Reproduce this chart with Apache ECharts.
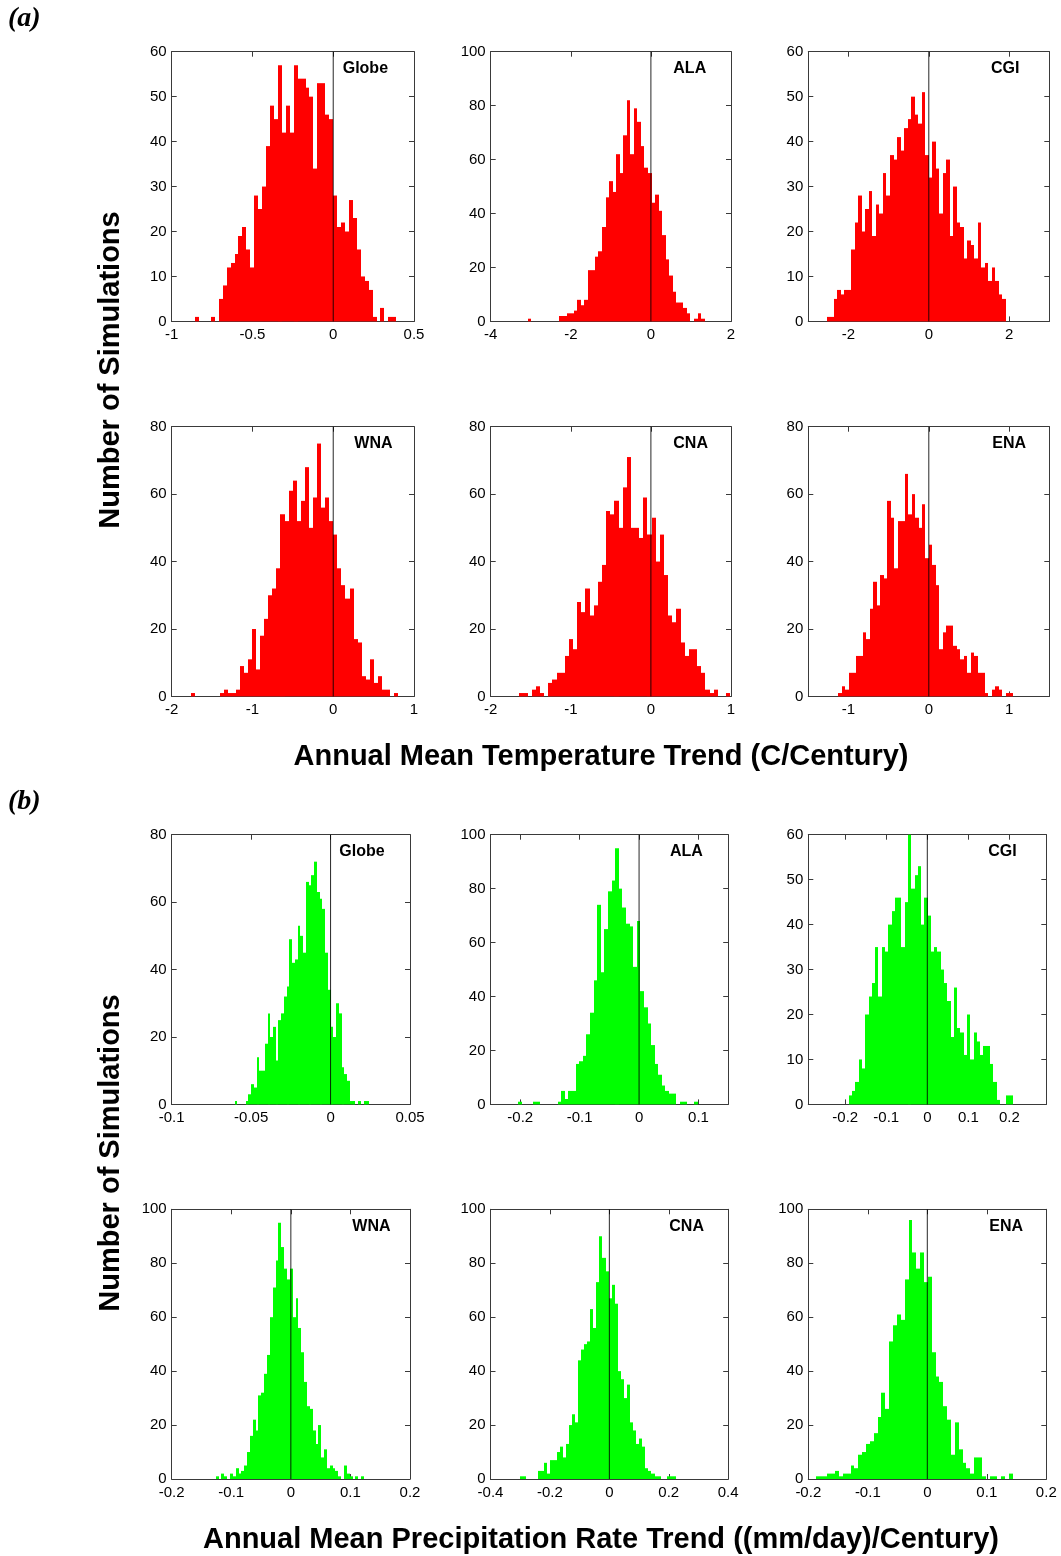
<!DOCTYPE html>
<html>
<head>
<meta charset="utf-8">
<script src="https://cdn.jsdelivr.net/npm/echarts@6/dist/echarts.min.js"></script>
<style>
  html, body { margin: 0; padding: 0; background: #ffffff; }
  #chart { width: 1061px; height: 1556px; }
</style>
</head>
<body>
<div id="chart"></div>
<script>
// ---------------------------------------------------------------------------
// Histogram counts (number of simulations per bin).
// Each *Range array gives [left edge of first bin, right edge of last bin];
// bins are equally wide across that range.
// ---------------------------------------------------------------------------

// (a) Annual mean temperature trend (C/Century)
const tempGlobe = [1,0,0,0,1,0,5,8,12,13,15,19,21,16,12,28,25,30,39,48,45,57,42,48,42,57,54,54,52,50,34,53,53,46,45,28,21,22,20,27,23,16,10,9,7,1,0,3,0,1,1];
const tempGlobeRange = [-0.855, 0.39];
const tempALA = [1,0,0,0,0,0,0,0,0,2,2,3,3,4,8,6,8,19,19,24,26,35,46,52,48,62,55,69,82,62,79,74,65,57,55,44,47,41,32,23,17,11,7,7,5,3,0,1,3,1];
const tempALARange = [-3.078, 1.342];
const tempCGI = [1,1,5,7,6,7,7,16,22,28,20,25,29,19,26,24,33,28,37,36,41,38,43,45,50,46,44,51,37,32,40,34,24,33,36,19,30,22,21,14,18,17,14,22,12,13,9,12,9,6,5];
const tempCGIRange = [-2.54, 1.92];
const tempWNA = [1,0,0,0,0,0,0,1,2,1,1,2,9,7,11,20,8,18,23,30,32,38,54,52,61,64,52,58,68,50,59,75,56,59,52,48,38,33,29,32,17,16,6,5,11,4,6,2,2,0,1];
const tempWNARange = [-1.76, 0.805];
const tempCNA = [1,1,0,2,3,1,0,4,5,7,7,12,17,14,28,25,32,24,27,34,39,55,54,58,50,62,71,50,50,47,59,48,53,40,48,36,24,22,26,16,12,14,14,9,7,2,1,2,0,0,1];
const tempCNARange = [-1.643, 0.99];
const tempENA = [1,3,2,7,7,12,12,19,17,26,34,27,36,35,58,53,38,52,52,66,54,60,53,50,57,41,45,39,33,14,19,21,21,15,14,11,12,7,13,12,7,7,1,0,2,3,2,0,1,1];
const tempENARange = [-1.125, 1.042];

// (b) Annual mean precipitation rate trend ((mm/day)/Century)
const precGlobe = [1,0,0,0,1,3,6,5,14,10,10,18,27,20,23,13,25,27,32,35,49,42,43,53,50,45,66,65,68,72,63,61,58,45,34,23,20,30,27,11,9,7,1,1,0,1,0,1,1];
const precGlobeRange = [-0.0604, 0.0242];
const precALA = [1,0,0,0,1,1,0,0,0,0,0,1,5,2,5,5,15,16,18,26,34,46,74,49,65,79,83,95,80,73,67,66,51,68,42,36,30,22,15,11,7,5,4,4,0,1,1,0,0,1];
const precALARange = [-0.2034, 0.0989];
const precCGI = [2,3,5,10,8,20,24,27,35,24,35,34,40,43,46,46,35,45,60,48,51,53,40,46,42,34,35,34,30,27,23,15,26,17,16,11,20,10,16,14,11,13,13,9,5,1,0,0,2,2];
const precCGIRange = [-0.191, 0.2086];
const precWNA = [1,0,2,1,0,2,1,4,2,3,5,10,16,22,18,31,32,39,46,60,71,81,95,86,78,74,78,60,67,56,47,36,27,26,18,13,20,8,11,4,5,4,3,1,0,5,2,1,0,1,0,1];
const precWNARange = [-0.1261, 0.1228];
const precCNA = [1,1,0,0,0,0,3,3,6,2,7,7,10,12,8,13,20,24,21,44,48,50,51,63,56,73,90,82,77,67,72,65,40,37,30,35,21,18,13,15,12,4,3,2,1,1,0,0,1,1,1];
const precCNARange = [-0.3016, 0.2243];
const precENA = [1,1,1,2,2,3,1,2,2,5,4,9,10,13,14,17,23,32,26,51,57,61,59,74,96,84,78,84,73,75,47,38,36,27,22,9,21,11,6,4,2,8,8,1,0,1,1,0,1,0,2];
const precENARange = [-0.1874, 0.1438];

// Axis extents and tick labels
const tempGlobeTicks = [-1, -0.5, 0, 0.5];
const tempALATicks = [-4, -2, 0, 2];
const tempCGITicks = [-2, 0, 2];
const tempWNATicks = [-2, -1, 0, 1];
const tempCNATicks = [-2, -1, 0, 1];
const tempENATicks = [-1, 0, 1];
const precGlobeTicks = [-0.1, -0.05, 0, 0.05];
const precALATicks = [-0.2, -0.1, 0, 0.1];
const precCGITicks = [-0.2, -0.1, 0, 0.1, 0.2];
const precWNATicks = [-0.2, -0.1, 0, 0.1, 0.2];
const precCNATicks = [-0.4, -0.2, 0, 0.2, 0.4];
const precENATicks = [-0.2, -0.1, 0, 0.1, 0.2];

// ---------------------------------------------------------------------------
// Layout
// ---------------------------------------------------------------------------
const TEMP_COLOR = '#ff0000';
const PREC_COLOR = '#00ff00';
const FRAME = '#3a3a3a';
const SANS = '"Liberation Sans", Arial, Helvetica, sans-serif';

const gridTop = [51.7, 426.7, 834.7, 1209.3];
const gridHeight = 269.7;
const gridLeftA = [171.7, 490.7, 808.3], gridWidthA = [242.3, 240.3, 241];
const gridLeftB = [171.7, 490.5, 808.3], gridWidthB = [238.3, 237.7, 238];

const panels = [
  { name: 'Globe', counts: tempGlobe, range: tempGlobeRange, xLim: [-1, 0.5],     ticks: tempGlobeTicks, yMax: 60,  yStep: 10, color: TEMP_COLOR, row: 0, col: 0, set: 'A', labelDx: 171 },
  { name: 'ALA',   counts: tempALA,   range: tempALARange,   xLim: [-4, 2],       ticks: tempALATicks,   yMax: 100, yStep: 20, color: TEMP_COLOR, row: 0, col: 1, set: 'A', labelDx: 182.6 },
  { name: 'CGI',   counts: tempCGI,   range: tempCGIRange,   xLim: [-3, 3],       ticks: tempCGITicks,   yMax: 60,  yStep: 10, color: TEMP_COLOR, row: 0, col: 2, set: 'A', labelDx: 182.7 },
  { name: 'WNA',   counts: tempWNA,   range: tempWNARange,   xLim: [-2, 1],       ticks: tempWNATicks,   yMax: 80,  yStep: 20, color: TEMP_COLOR, row: 1, col: 0, set: 'A', labelDx: 182.6 },
  { name: 'CNA',   counts: tempCNA,   range: tempCNARange,   xLim: [-2, 1],       ticks: tempCNATicks,   yMax: 80,  yStep: 20, color: TEMP_COLOR, row: 1, col: 1, set: 'A', labelDx: 182.6 },
  { name: 'ENA',   counts: tempENA,   range: tempENARange,   xLim: [-1.5, 1.5],   ticks: tempENATicks,   yMax: 80,  yStep: 20, color: TEMP_COLOR, row: 1, col: 2, set: 'A', labelDx: 184 },
  { name: 'Globe', counts: precGlobe, range: precGlobeRange, xLim: [-0.1, 0.05],  ticks: precGlobeTicks, yMax: 80,  yStep: 20, color: PREC_COLOR, row: 2, col: 0, set: 'B', labelDx: 167.6 },
  { name: 'ALA',   counts: precALA,   range: precALARange,   xLim: [-0.25, 0.15], ticks: precALATicks,   yMax: 100, yStep: 20, color: PREC_COLOR, row: 2, col: 1, set: 'B', labelDx: 179.5 },
  { name: 'CGI',   counts: precCGI,   range: precCGIRange,   xLim: [-0.29, 0.29], ticks: precCGITicks,   yMax: 60,  yStep: 10, color: PREC_COLOR, row: 2, col: 2, set: 'B', labelDx: 180 },
  { name: 'WNA',   counts: precWNA,   range: precWNARange,   xLim: [-0.2, 0.2],   ticks: precWNATicks,   yMax: 100, yStep: 20, color: PREC_COLOR, row: 3, col: 0, set: 'B', labelDx: 180.6 },
  { name: 'CNA',   counts: precCNA,   range: precCNARange,   xLim: [-0.4, 0.4],   ticks: precCNATicks,   yMax: 100, yStep: 20, color: PREC_COLOR, row: 3, col: 1, set: 'B', labelDx: 178.8 },
  { name: 'ENA',   counts: precENA,   range: precENARange,   xLim: [-0.2, 0.2],   ticks: precENATicks,   yMax: 100, yStep: 20, color: PREC_COLOR, row: 3, col: 2, set: 'B', labelDx: 181 }
];

const fmt = v => String(+Number(v).toFixed(6));

const grids = [], xAxes = [], yAxes = [], series = [], graphics = [];

panels.forEach((p, i) => {
  const left = p.set === 'A' ? gridLeftA[p.col] : gridLeftB[p.col];
  const width = p.set === 'A' ? gridWidthA[p.col] : gridWidthB[p.col];
  const top = gridTop[p.row];
  grids.push({ left, top, width, height: gridHeight, containLabel: false, show: false });

  const lineStyle = { color: FRAME, width: 1 };
  const tickBase = { show: true, inside: true, length: 5, lineStyle };
  const yTicks = [];
  for (let v = 0; v <= p.yMax + 1e-9; v += p.yStep) yTicks.push(v);

  // bottom (labelled) and top (mirror) x axes
  [['bottom', true], ['top', false]].forEach(([pos, lab]) => {
    xAxes.push({
      gridIndex: i, type: 'value', position: pos, min: p.xLim[0], max: p.xLim[1],
      axisLine: { show: true, onZero: false, lineStyle },
      axisTick: Object.assign({ customValues: p.ticks }, tickBase),
      axisLabel: {
        show: lab, customValues: p.ticks, formatter: fmt, margin: 6,
        fontSize: 15, color: '#000', fontFamily: SANS
      },
      splitLine: { show: false }
    });
  });
  // left (labelled) and right (mirror) y axes
  [['left', true], ['right', false]].forEach(([pos, lab]) => {
    yAxes.push({
      gridIndex: i, type: 'value', position: pos, min: 0, max: p.yMax, interval: p.yStep,
      axisLine: { show: true, onZero: false, lineStyle },
      axisTick: Object.assign({ customValues: yTicks }, tickBase),
      axisLabel: {
        show: lab, customValues: yTicks, formatter: fmt, margin: 5,
        fontSize: 15, color: '#000', fontFamily: SANS
      },
      splitLine: { show: false }
    });
  });

  // histogram bars
  const lo = p.range[0];
  const w = (p.range[1] - p.range[0]) / p.counts.length;
  const bins = p.counts.map((c, k) => [lo + k * w, lo + (k + 1) * w, c]);
  const color = p.color;
  series.push({
    type: 'custom', xAxisIndex: 2 * i, yAxisIndex: 2 * i, silent: true, z: 2,
    data: bins,
    encode: { x: [0, 1], y: 2 },
    renderItem: (params, api) => {
      const c = api.value(2);
      if (!c) return null;
      const a = api.coord([api.value(0), 0]);
      const b = api.coord([api.value(1), c]);
      const x0 = Math.round(a[0]), x1 = Math.round(b[0]);
      return {
        type: 'rect',
        shape: { x: x0, y: b[1], width: Math.max(1, x1 - x0), height: a[1] - b[1] },
        style: { fill: color, stroke: null }
      };
    }
  });

  // vertical reference line at zero trend
  series.push({
    type: 'line', xAxisIndex: 2 * i, yAxisIndex: 2 * i, silent: true, z: 3,
    data: [[0, 0], [0, p.yMax]], symbol: 'none',
    lineStyle: { color: '#000', width: 1, opacity: 0.85 }
  });

  // region name inside the frame
  graphics.push({
    type: 'text', x: left + p.labelDx, y: top + 17, z: 10,
    style: {
      text: p.name, fill: '#000', fontSize: 16, fontWeight: 'bold',
      fontFamily: SANS, align: 'left', verticalAlign: 'middle'
    }
  });
});

// panel letters, shared axis titles
const titleFont = { fill: '#000', fontWeight: 'bold', fontFamily: SANS, align: 'center', verticalAlign: 'middle' };
graphics.push(
  { type: 'text', x: 8, y: 19, style: { text: '(a)', fill: '#000', fontSize: 28, fontWeight: 'bold', fontStyle: 'italic', fontFamily: '"Liberation Serif", "Times New Roman", serif', align: 'left', verticalAlign: 'middle' } },
  { type: 'text', x: 8, y: 802, style: { text: '(b)', fill: '#000', fontSize: 28, fontWeight: 'bold', fontStyle: 'italic', fontFamily: '"Liberation Serif", "Times New Roman", serif', align: 'left', verticalAlign: 'middle' } },
  { type: 'text', x: 111, y: 370, rotation: Math.PI / 2, style: Object.assign({ text: 'Number of Simulations', fontSize: 29 }, titleFont) },
  { type: 'text', x: 111, y: 1153, rotation: Math.PI / 2, style: Object.assign({ text: 'Number of Simulations', fontSize: 29 }, titleFont) },
  { type: 'text', x: 601, y: 757, style: Object.assign({ text: 'Annual Mean Temperature Trend (C/Century)', fontSize: 29 }, titleFont) },
  { type: 'text', x: 601, y: 1540, style: Object.assign({ text: 'Annual Mean Precipitation Rate Trend ((mm/day)/Century)', fontSize: 29 }, titleFont) }
);

const chart = echarts.init(document.getElementById('chart'), null, { renderer: 'canvas' });
chart.setOption({
  backgroundColor: '#ffffff',
  animation: false,
  grid: grids,
  xAxis: xAxes,
  yAxis: yAxes,
  series: series,
  graphic: graphics
});
</script>
</body>
</html>
